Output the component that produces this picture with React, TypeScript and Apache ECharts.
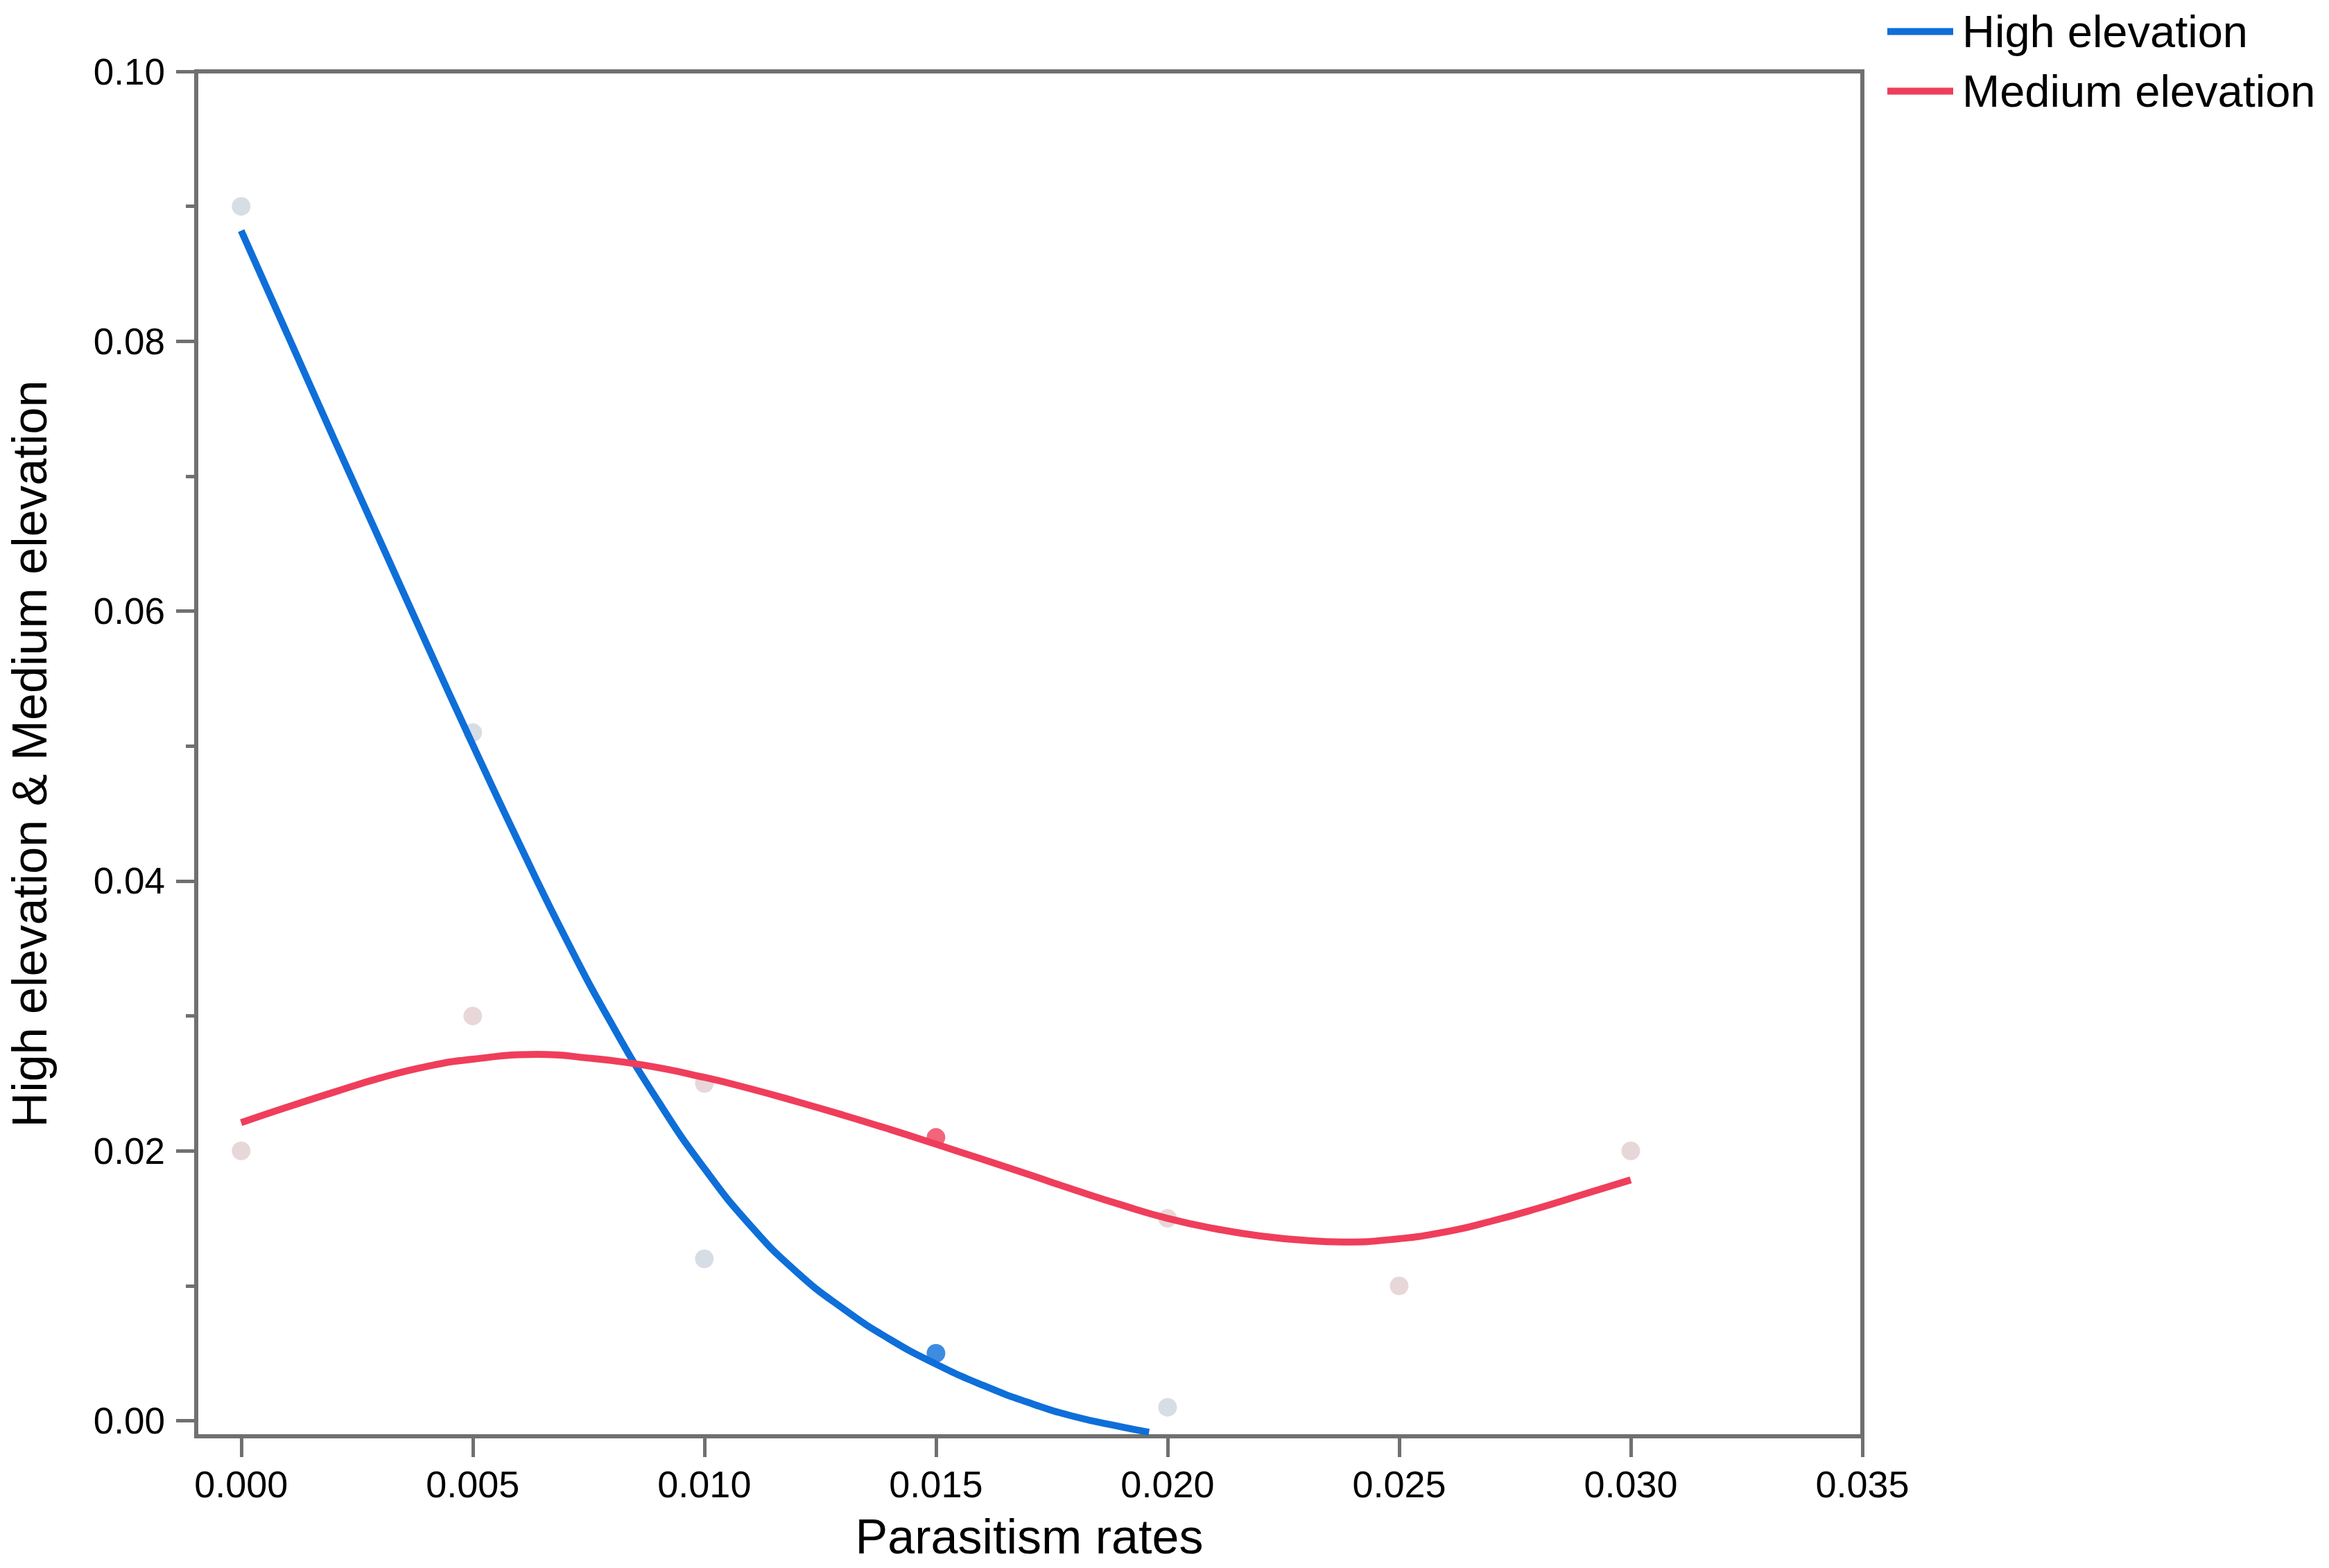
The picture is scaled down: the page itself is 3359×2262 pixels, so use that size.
import React, { useEffect, useRef } from "react";
import * as echarts from "echarts";

// ---- data ----
const highPointsX = [0, 0.005, 0.01, 0.02];
const highPointsY = [0.09, 0.051, 0.012, 0.001];
const highMarkX = [0.015];
const highMarkY = [0.005];

const mediumPointsX = [0, 0.005, 0.01, 0.02, 0.025, 0.03];
const mediumPointsY = [0.02, 0.03, 0.025, 0.015, 0.01, 0.02];
const mediumMarkX = [0.015];
const mediumMarkY = [0.021];

// fitted curves
const highCurveX = [0, 0.001, 0.002, 0.003, 0.004, 0.005, 0.006, 0.007, 0.008, 0.009, 0.01, 0.011, 0.012, 0.013, 0.014, 0.015, 0.016, 0.017, 0.018, 0.019, 0.0196];
const highCurveY = [0.0882, 0.0805, 0.0728, 0.0652, 0.0576, 0.0501, 0.0428, 0.0358, 0.0294, 0.0237, 0.0187, 0.01445, 0.011, 0.0083, 0.00605, 0.0042, 0.00265, 0.00135, 0.0003, -0.00045, -0.00085];

const mediumCurveX = [0, 0.001, 0.002, 0.003, 0.004, 0.005, 0.0064, 0.0075, 0.0087, 0.01, 0.011, 0.012, 0.013, 0.014, 0.015, 0.016, 0.017, 0.018, 0.019, 0.02, 0.021, 0.022, 0.023, 0.0238, 0.0248, 0.026, 0.027, 0.028, 0.029, 0.03];
const mediumCurveY = [0.0221, 0.02325, 0.02435, 0.0254, 0.02625, 0.0268, 0.02715, 0.02688, 0.02635, 0.02545, 0.0246, 0.02365, 0.02265, 0.0216, 0.0205, 0.01938, 0.01825, 0.0171, 0.016, 0.015, 0.01425, 0.0137, 0.01336, 0.01325, 0.01342, 0.014, 0.0148, 0.01575, 0.0168, 0.01785];

const xTickValues = [0, 0.005, 0.01, 0.015, 0.02, 0.025, 0.03, 0.035];
const yMajorValues = [0, 0.02, 0.04, 0.06, 0.08, 0.1];
const yMinorValues = [0.01, 0.03, 0.05, 0.07, 0.09];

const seriesNames = ["High elevation", "Medium elevation"];
const xTitle = "Parasitism rates";
const yTitle = "High elevation & Medium elevation";

const BLUE = "#0E6FD9";
const RED = "#EF3E5B";
const BLUE_LIGHT = "#CDD4DF";
const RED_LIGHT = "#E2CDD0";
const AXIS = "#707070";
const FONT = "'Liberation Sans', Arial, Helvetica, sans-serif";

const zip = (xs: number[], ys: number[]) => xs.map((x, i) => [x, ys[i]]);

export default function App() {
  const ref = useRef<HTMLDivElement>(null);
  useEffect(() => {
    if (!ref.current) return;
    const chart = echarts.init(ref.current, undefined, { renderer: "svg" });
    const yBase = {
      type: "value",
      min: -0.00115,
      max: 0.1,
      position: "left",
      splitLine: { show: false },
    };
    chart.setOption({
      animation: false,
      backgroundColor: "#ffffff",
      textStyle: { fontFamily: FONT },
      grid: {
        left: 283,
        right: 673,
        top: 103,
        bottom: 190,
        show: true,
        borderColor: AXIS,
        borderWidth: 6,
        backgroundColor: "transparent",
      },
      legend: {
        orient: "vertical",
        left: 2717,
        top: 8,
        itemWidth: 95,
        itemHeight: 10,
        itemGap: 21,
        icon: "rect",
        data: seriesNames,
        textStyle: { fontSize: 65, color: "#000", fontFamily: FONT, padding: [0, 0, 0, 8] },
      },
      xAxis: {
        type: "value",
        min: -0.00097,
        max: 0.035,
        name: xTitle,
        nameLocation: "middle",
        nameGap: 110,
        nameTextStyle: { fontSize: 70, color: "#000", fontFamily: FONT },
        axisLine: { show: true, onZero: false, lineStyle: { color: AXIS, width: 6 } },
        axisTick: { show: true, length: 30, customValues: xTickValues, lineStyle: { color: AXIS, width: 5 } },
        axisLabel: {
          customValues: xTickValues,
          formatter: (v: number) => v.toFixed(3),
          fontSize: 54,
          color: "#000",
          margin: 42,
          fontFamily: FONT,
        },
        splitLine: { show: false },
      },
      yAxis: [
        {
          ...yBase,
          name: yTitle,
          nameLocation: "middle",
          nameGap: 205,
          nameTextStyle: { fontSize: 70, color: "#000", fontFamily: FONT },
          axisLine: { show: true, onZero: false, lineStyle: { color: AXIS, width: 6 } },
          axisTick: { show: true, length: 29, customValues: yMajorValues, lineStyle: { color: AXIS, width: 5 } },
          axisLabel: {
            customValues: yMajorValues,
            formatter: (v: number) => v.toFixed(2),
            fontSize: 53,
            color: "#000",
            margin: 45,
            fontFamily: FONT,
          },
        },
        {
          ...yBase,
          axisLine: { show: false, onZero: false },
          axisTick: { show: true, length: 15, customValues: yMinorValues, lineStyle: { color: AXIS, width: 5 } },
          axisLabel: { show: false, customValues: yMinorValues },
        },
      ],
      series: [
        {
          name: "High points",
          type: "scatter",
          data: zip(highPointsX, highPointsY),
          symbolSize: 27,
          itemStyle: { color: BLUE_LIGHT },
          z: 1,
        },
        {
          name: "Medium points",
          type: "scatter",
          data: zip(mediumPointsX, mediumPointsY),
          symbolSize: 27,
          itemStyle: { color: RED_LIGHT },
          z: 1,
        },
        {
          name: "High mark",
          type: "scatter",
          data: zip(highMarkX, highMarkY),
          symbolSize: 27,
          itemStyle: { color: BLUE },
          z: 1,
        },
        {
          name: "Medium mark",
          type: "scatter",
          data: zip(mediumMarkX, mediumMarkY),
          symbolSize: 27,
          itemStyle: { color: RED },
          z: 1,
        },
        {
          name: seriesNames[0],
          type: "line",
          data: zip(highCurveX, highCurveY),
          smooth: true,
          showSymbol: false,
          lineStyle: { color: BLUE, width: 10 },
          itemStyle: { color: BLUE },
          z: 3,
        },
        {
          name: seriesNames[1],
          type: "line",
          data: zip(mediumCurveX, mediumCurveY),
          smooth: true,
          showSymbol: false,
          lineStyle: { color: RED, width: 10 },
          itemStyle: { color: RED },
          z: 3,
        },
      ],
    });
    return () => chart.dispose();
  }, []);
  return (
    <div
      ref={ref}
      style={{ position: "fixed", left: 0, top: 0, width: 3359, height: 2262, background: "#fff" }}
    />
  );
}
